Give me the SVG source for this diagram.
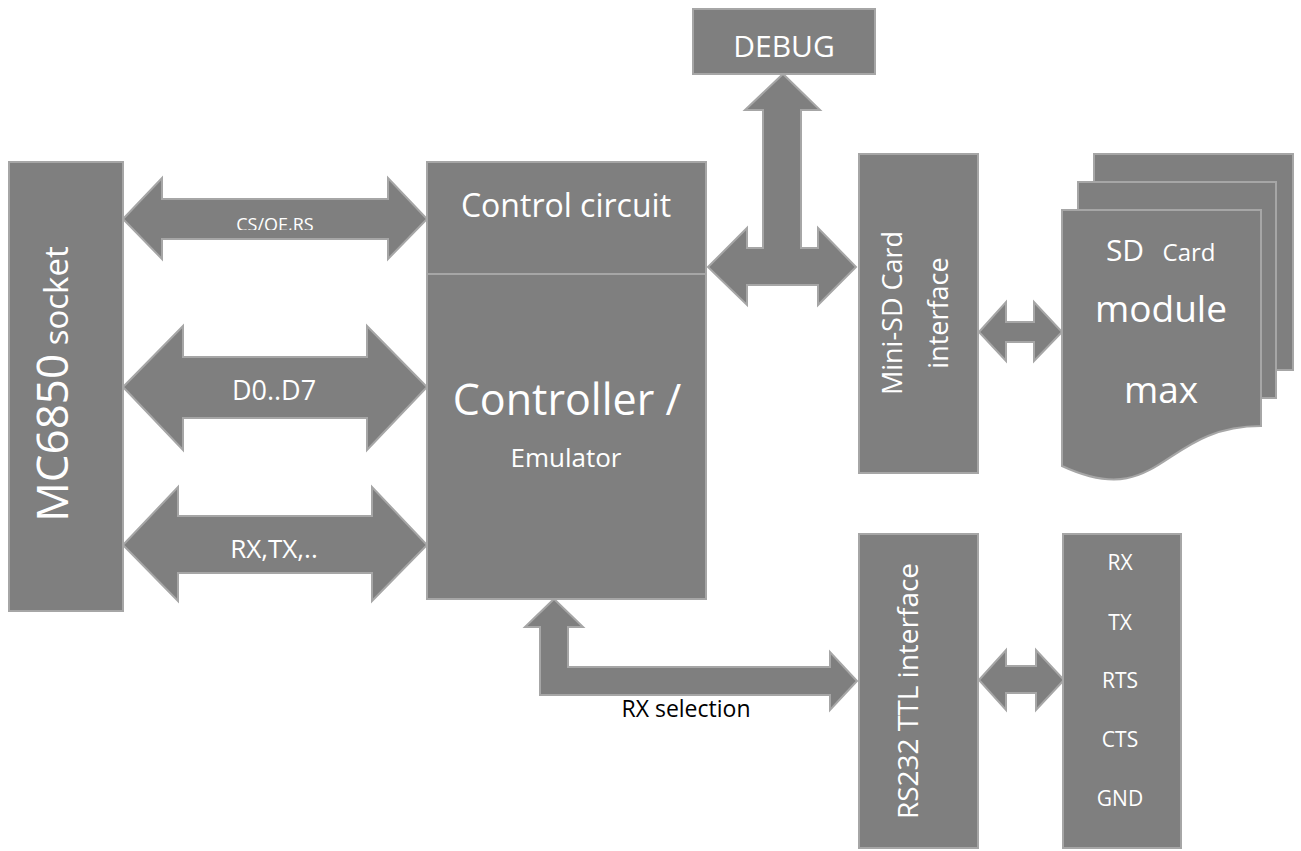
<svg xmlns="http://www.w3.org/2000/svg" width="1301" height="851" viewBox="0 0 1301 851">
<style>
.box{fill:#7f7f7f;stroke:#a6a6a6;stroke-width:2}
.arr{fill:#7f7f7f;stroke:#a6a6a6;stroke-width:2;stroke-linejoin:miter}
.t{font-family:"Open Sans","Noto Sans","Liberation Sans",sans-serif;fill:#ffffff;text-anchor:middle}
.b{font-family:"Open Sans","Noto Sans","Liberation Sans",sans-serif;fill:#000000;text-anchor:middle}
</style>
<defs>
<clipPath id="csclip"><rect x="200" y="200" width="160" height="30"/></clipPath>
</defs>
<g id="connectors">
<polygon class="arr" points="123,219 162,178 162,199 388,199 388,178 427,219 388,259 388,239 162,239 162,259"/>
<polygon class="arr" points="123,387 183,326 183,357 367,357 367,326 427,387 367,450 367,418 183,418 183,450"/>
<polygon class="arr" points="123,545 178,487 178,516 372,516 372,487 427,545 372,601 372,573 178,573 178,601"/>
<polygon class="arr" points="708,267 747,228 747,248 763,248 763,110 745,110 783,74 820,110 801,110 801,248 818,248 818,228 856,267 818,305 818,285 747,285 747,305"/>
<polygon class="arr" points="979,332 1006,302 1006,322 1034,322 1034,302 1062,332 1034,361 1034,342 1006,342 1006,361"/>
<polygon class="arr" points="979,680 1006,650 1006,666 1036,666 1036,650 1064,680 1036,710 1036,693 1006,693 1006,710"/>
<polygon class="arr" points="554,599 583,627 568,627 568,667 830,667 830,652 857,681 830,710 830,695 540,695 540,627 525,627"/>
<text class="t" x="275" y="231" font-size="18" clip-path="url(#csclip)">CS/OE,RS</text>
<text class="t" x="274" y="400" font-size="27">D0..D7</text>
<text class="t" x="274" y="558" font-size="26">RX,TX,..</text>
<text class="b" x="686" y="717" font-size="23">RX selection</text>
</g>
<g id="mc6850">
<rect class="box" x="9" y="162" width="114" height="449"/>
<text class="t" transform="translate(68,384) rotate(-90)" font-size="44">MC6850<tspan font-size="33"> socket</tspan></text>
</g>
<g id="control-circuit">
<rect class="box" x="427" y="162" width="279" height="112"/>
<text class="t" x="566" y="217" font-size="32">Control circuit</text>
</g>
<g id="controller">
<rect class="box" x="427" y="274" width="279" height="325"/>
<text class="t" x="567" y="415" font-size="43">Controller /</text>
<text class="t" x="566" y="467" font-size="26">Emulator</text>
</g>
<g id="debug">
<rect class="box" x="693" y="9" width="182" height="65"/>
<text class="t" x="784" y="57" font-size="30">DEBUG</text>
</g>
<g id="minisd">
<rect class="box" x="859" y="154" width="119" height="319"/>
<text class="t" transform="translate(902,313) rotate(-90)" font-size="27">Mini-SD Card</text>
<text class="t" transform="translate(948,313) rotate(-90)" font-size="27">interface</text>
</g>
<g id="sdcard">
<rect class="box" x="1094" y="154" width="199" height="216"/>
<rect class="box" x="1078" y="182" width="198" height="216"/>
<path class="box" d="M1062,210 L1261,210 L1261,426 C1161,426 1161,512 1062,466 Z"/>
<text class="t" x="1125" y="261" font-size="30">SD</text>
<text class="t" x="1189" y="261" font-size="24">Card</text>
<text class="t" x="1161" y="322" font-size="37">module</text>
<text class="t" x="1161" y="403" font-size="37">max</text>
</g>
<g id="rs232">
<rect class="box" x="859" y="534" width="119" height="314"/>
<text class="t" transform="translate(918,691) rotate(-90)" font-size="28">RS232 TTL interface</text>
</g>
<g id="signals">
<rect class="box" x="1063" y="534" width="118" height="314"/>
<text class="t" x="1120" y="570" font-size="21">RX</text>
<text class="t" x="1120" y="630" font-size="21">TX</text>
<text class="t" x="1120" y="688" font-size="21">RTS</text>
<text class="t" x="1120" y="747" font-size="21">CTS</text>
<text class="t" x="1120" y="806" font-size="21">GND</text>
</g>
</svg>
